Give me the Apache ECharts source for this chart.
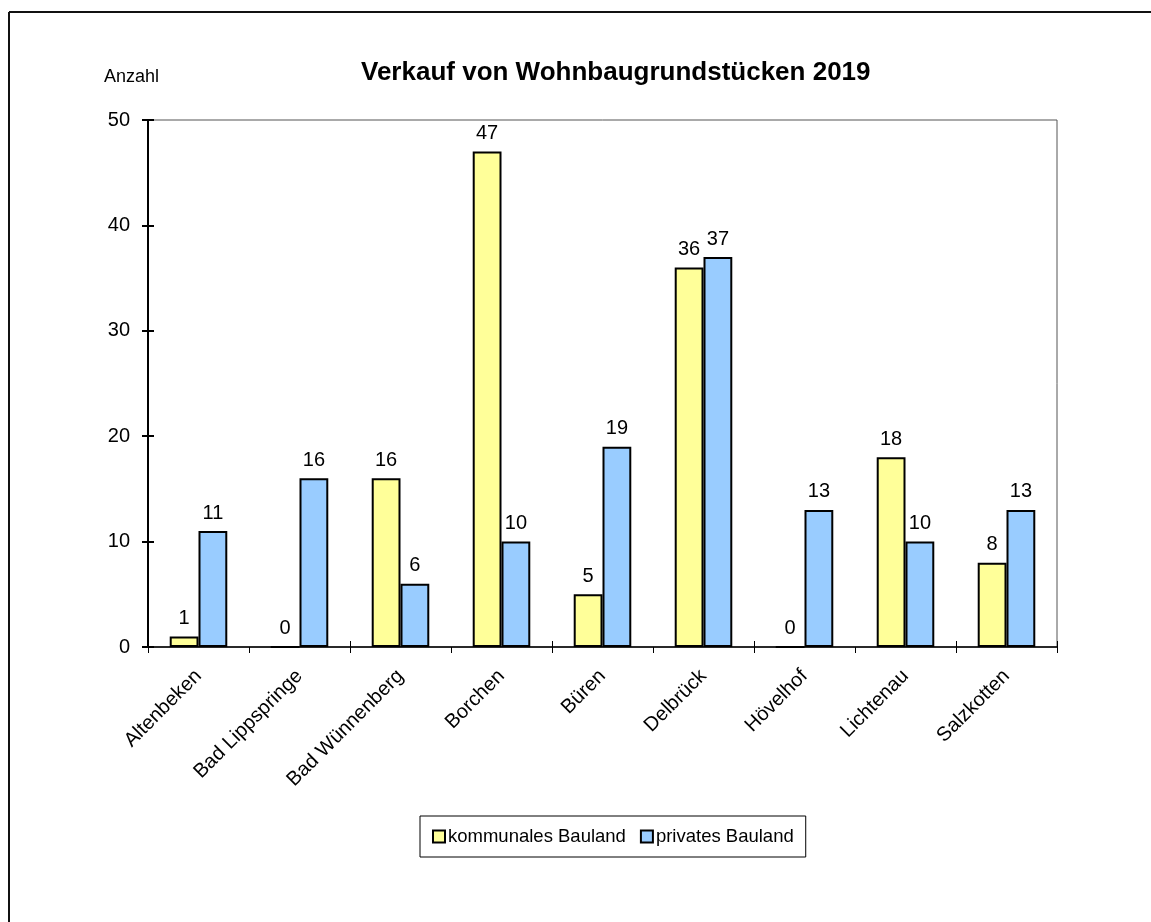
<!DOCTYPE html>
<html><head><meta charset="utf-8">
<script src="https://cdn.jsdelivr.net/npm/echarts@6/dist/echarts.min.js"></script>
<style>html,body{margin:0;padding:0;background:#fff}#c{width:1151px;height:922px}</style>
</head><body><div id="c"></div>
<script>
const categories = ['Altenbeken','Bad Lippspringe','Bad Wünnenberg','Borchen','Büren','Delbrück','Hövelhof','Lichtenau','Salzkotten'];
const kommunal = [1,0,16,47,5,36,0,18,8];
const privat = [11,16,6,10,19,37,13,10,13];
const yTicks = [0,10,20,30,40,50];

const FONT = 'Liberation Sans, Arial, sans-serif';
const chart = echarts.init(document.getElementById('c'));
const lbl = {show:true, position:'top', distance:8, color:'#000', fontSize:20, fontFamily:FONT};
const yBase = {type:'value', min:yTicks[0], max:yTicks[yTicks.length-1], interval:10, splitLine:{show:false}};
chart.setOption({
  animation:false,
  textStyle:{fontFamily:FONT},
  graphic:[
    {type:'line', shape:{x1:9, y1:12, x2:1151, y2:12}, style:{stroke:'#111', lineWidth:2}},
    {type:'line', shape:{x1:9, y1:12, x2:9, y2:922}, style:{stroke:'#111', lineWidth:2}},
    {type:'text', left:104, top:68, style:{text:'Anzahl', fontSize:18, fontFamily:FONT, fill:'#000'}}
  ],
  title:{text:'Verkauf von Wohnbaugrundstücken 2019', left:361, top:60, padding:0,
    textStyle:{fontSize:26, fontWeight:'bold', color:'#000', fontFamily:FONT}},
  legend:{left:420, top:816, padding:[11,12,11,12], itemGap:14, itemWidth:12, itemHeight:12,
    icon:'rect', borderColor:'#000', borderWidth:1,
    itemStyle:{borderColor:'#000', borderWidth:2},
    textStyle:{fontSize:18.5, color:'#000', fontFamily:FONT, padding:[0,0,0,-2]}},
  grid:{left:148, top:120, right:94, bottom:275, show:true, borderColor:'#555', borderWidth:1},
  xAxis:[{type:'category', data:categories,
    axisLine:{lineStyle:{color:'#000', width:1.5}},
    axisTick:{show:true, length:6, lineStyle:{color:'#000'}},
    axisLabel:{rotate:45, fontSize:20, color:'#000', margin:26, interval:0, fontFamily:FONT}},
   {type:'category', data:categories, position:'bottom', show:true,
    axisLine:{show:false}, axisTick:{show:true, inside:true, length:6, lineStyle:{color:'#000'}},
    axisLabel:{show:false}}],
  yAxis:[Object.assign({}, yBase, {
    axisLine:{show:true, lineStyle:{color:'#000', width:2}},
    axisTick:{show:true, length:6, lineStyle:{color:'#000', width:2}},
    axisLabel:{fontSize:20, color:'#000', margin:18, fontFamily:FONT}}),
   Object.assign({}, yBase, {position:'left', show:true,
    axisLine:{show:false},
    axisTick:{show:true, inside:true, length:6, lineStyle:{color:'#000', width:2}},
    axisLabel:{show:false}})],
  series:[
    {name:'kommunales Bauland', type:'bar', data:kommunal, barGap:'0%', barCategoryGap:'43%',
      itemStyle:{color:'#FFFF99', borderColor:'#000', borderWidth:2}, label:lbl},
    {name:'privates Bauland', type:'bar', data:privat, barGap:'0%', barCategoryGap:'43%',
      itemStyle:{color:'#99CCFF', borderColor:'#000', borderWidth:2}, label:lbl}
  ]
});
</script></body></html>
